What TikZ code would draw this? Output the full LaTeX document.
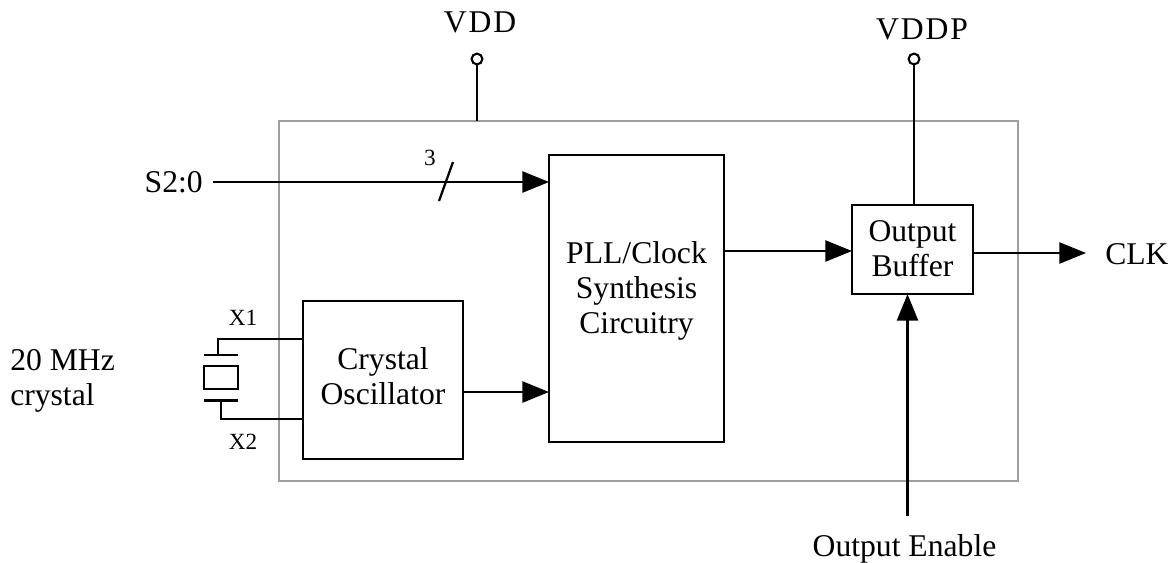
\documentclass[tikz,border=0pt]{standalone}
\usepackage{fontspec}
\setmainfont{Liberation Serif}
\usetikzlibrary{arrows.meta}
\tikzset{>={Triangle[length=19pt,width=15pt]}}
\tikzset{block/.style={draw,line width=1.6pt,inner sep=0pt,outer sep=0pt}}
\tikzset{txt/.style={inner sep=0pt,align=left,font=\fontsize{22.5}{25}\selectfont}}
\tikzset{inner/.style={inner sep=0pt,align=center,font=\fontsize{22.5}{25}\selectfont}}
\tikzset{small/.style={inner sep=0pt,font=\fontsize{16.5}{18}\selectfont}}
\tikzset{wire/.style={line width=1.6pt}}
\tikzset{pin/.style={circle,draw,line width=1.5pt,fill=white,inner sep=0pt,minimum size=7.7pt}}

\begin{document}
\begin{tikzpicture}[x=0.025cm,y=-0.025cm]
    \useasboundingbox (0,0) rectangle (1168,562);

    \draw [line width=1.6pt,color=black!38] (279,121) rectangle (1018,481);
    \coordinate (top) at (477,121);

    \node [block,minimum width=124.4pt,minimum height=204pt,
    label={[inner,name=plltext,yshift=5.5pt]center:PLL/Clock\\Synthesis\\Circuitry}] (pll) at (636.5,298.5) {};
    \node [block,minimum width=86pt,minimum height=63.3pt,
    label={[inner,name=buftext,yshift=0.5pt]center:Output\\Buffer}] (buf) at (912.5,249.5) {};
    \node [block,minimum width=114pt,minimum height=112pt,
    label={[inner,name=osctext,yshift=3pt]center:Crystal\\Oscillator}] (osc) at (383,380) {};

    \node [pin] (vdd) at (477,59) {};
    \node [pin] (vddp) at (914,59) {};
    \node [txt] (vddlabel) at (480,22) {\addfontfeature{LetterSpace=6}VDD};
    \node [txt] (vddplabel) at (922,29) {\addfontfeature{LetterSpace=6}VDDP};
    \draw [wire] (vdd) -- (top);
    \draw [wire] (vddp) -- (vddp |- buf.north);

    \node [txt,anchor=east] (s) at (203,182) {S2:0};
    \node [small] (three) at (430,158) {3};
    \coordinate (slasha) at (439,201);
    \coordinate (slashb) at (453,162);
    \coordinate (sstart) at (213,182);
    \draw [wire,->] (sstart) -- (pll.west |- sstart);
    \draw [wire] (slasha) -- (slashb);

    \coordinate (bufin) at (852,251);
    \draw [wire,->] (pll.east |- bufin) -- (bufin);
    \node [txt,anchor=west] (clk) at (1105,254) {CLK};
    \coordinate (clkend) at (1086,253);
    \draw [wire,->] (buf.east |- clkend) -- (clkend);

    \node [txt] (enable) at (904.5,549) {Output Enable};
    \coordinate (enablestart) at (907.5,516);
    \draw [wire,->] (enablestart) -- (enablestart |- buf.south);

    \coordinate (oscout) at (464,392);
    \draw [wire,->] (oscout) -- (pll.west |- oscout);

    \node [block,minimum width=24pt,minimum height=16.5pt] (xtal) at (221,377.5) {};
    \coordinate (plateaw) at (204,355);
    \coordinate (plateae) at (238,355);
    \coordinate (platebw) at (204,400.5);
    \coordinate (platebe) at (238,400.5);
    \draw [wire] (plateaw) -- (plateae);
    \draw [wire] (platebw) -- (platebe);

    \coordinate (xa) at (218,355);
    \coordinate (xb) at (221,400.5);
    \coordinate (xaend) at (303,339);
    \coordinate (xbend) at (303,419);
    \draw [wire] (xa) |- (xaend);
    \draw [wire] (xb) |- (xbend);

    \node [small] (xonelabel) at (243,318) {X1};
    \node [small] (xtwolabel) at (243,442) {X2};

    \node [txt,anchor=north west] (crystal) at (10,349) {20 MHz\\crystal};
\end{tikzpicture}
\end{document}
